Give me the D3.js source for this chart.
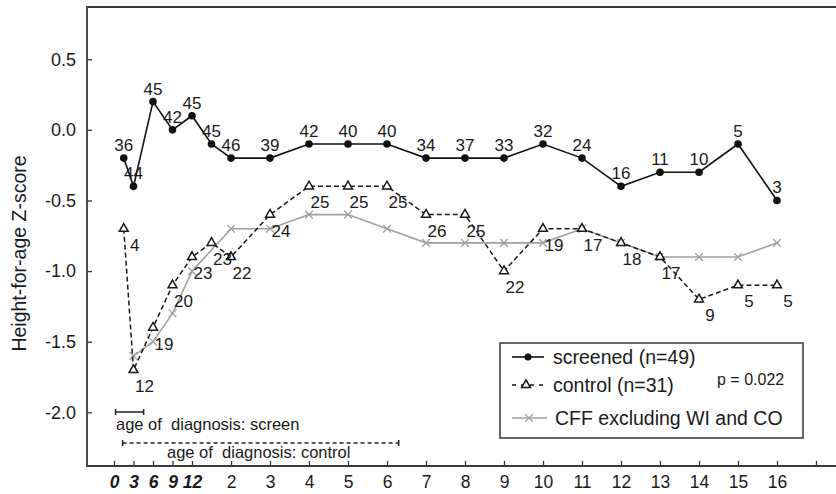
<!DOCTYPE html>
<html><head><meta charset="utf-8">
<script src="https://cdn.jsdelivr.net/npm/d3@7"></script>
<style>
body{margin:0;background:#fff}
text{font-family:"Liberation Sans",Arial,Helvetica,sans-serif;fill:#1a1a1a}
</style>
</head><body>
<svg id="chart" width="836" height="494"></svg>
<script>
// ---- data (ages in years; first year shown in months) ----
const screenedAges = [0.125,0.25,0.5,0.75,1,1.5,2,3,4,5,6,7,8,9,10,11,12,13,14,15,16];
const screenedZ    = [-0.2,-0.4,0.2,0.0,0.1,-0.1,-0.2,-0.2,-0.1,-0.1,-0.1,-0.2,-0.2,-0.2,-0.1,-0.2,-0.4,-0.3,-0.3,-0.1,-0.5];
const screenedN    = [36,44,45,42,45,45,46,39,42,40,40,34,37,33,32,24,16,11,10,5,3];

const controlAges  = [0.125,0.25,0.5,0.75,1,1.5,2,3,4,5,6,7,8,9,10,11,12,13,14,15,16];
const controlZ     = [-0.7,-1.7,-1.4,-1.1,-0.9,-0.8,-0.9,-0.6,-0.4,-0.4,-0.4,-0.6,-0.6,-1.0,-0.7,-0.7,-0.8,-0.9,-1.2,-1.1,-1.1];
const controlN     = [4,12,19,20,23,23,22,24,25,25,25,26,25,22,19,17,18,17,9,5,5];

const cffAges      = [0.25,0.5,0.75,1,2,3,4,5,6,7,8,9,10,11,12,13,14,15,16];
const cffZ         = [-1.6,-1.5,-1.3,-1.0,-0.7,-0.7,-0.6,-0.6,-0.7,-0.8,-0.8,-0.8,-0.8,-0.7,-0.8,-0.9,-0.9,-0.9,-0.8];

const monthTicks   = [0,3,6,9,12];
const yearTicks    = [2,3,4,5,6,7,8,9,10,11,12,13,14,15,16,17];
const yTicks       = [0.5,0.0,-0.5,-1.0,-1.5,-2.0];

const screenDiagnosisRange  = [0.02,0.38];
const controlDiagnosisRange = [0.11,6.3];

const legendLabels = ["screened (n=49)","control (n=31)","CFF excluding WI and CO"];
const pValueText = "p = 0.022";
const yTitle = "Height-for-age Z-score";

// ---- scales ----
const svg = d3.select("#chart");
const x = d3.scaleLinear().domain([0,1,16]).range([114,192,777]);
const y = d3.scaleLinear().domain([-2.38,0.87]).range([466,7]);
const frameL = 87, frameR = 836, frameT = 7, frameB = 466;

// ---- axes ----
const tickVals = monthTicks.map(m=>m/12).concat(yearTicks);
const xAxis = d3.axisBottom(x).tickValues(tickVals)
  .tickFormat(d => d<=1 ? String(Math.round(d*12)) : (d===17 ? "" : String(d)))
  .tickSizeInner(-5).tickSizeOuter(0).tickPadding(10);
const gx = svg.append("g").attr("transform",`translate(0,${frameB})`).call(xAxis);
gx.select(".domain").remove();
gx.selectAll(".tick line").attr("stroke","#333").attr("stroke-width",1.3);
gx.selectAll(".tick text").attr("font-size",17.5).attr("fill","#1a1a1a")
  .attr("font-family","'Liberation Sans',Arial,sans-serif")
  .filter(d=>d<=1).attr("font-weight","bold").attr("font-style","italic");

const yAxis = d3.axisLeft(y).tickValues(yTicks).tickFormat(d=>d.toFixed(1))
  .tickSizeInner(-5).tickSizeOuter(0).tickPadding(11);
const gy = svg.append("g").attr("transform",`translate(${frameL},0)`).call(yAxis);
gy.select(".domain").remove();
gy.selectAll(".tick line").attr("stroke","#333").attr("stroke-width",1.3);
gy.selectAll(".tick text").attr("font-size",18).attr("fill","#1a1a1a")
  .attr("font-family","'Liberation Sans',Arial,sans-serif");

// frame
svg.append("path").attr("d",`M${frameR},${frameT}H${frameL}V${frameB}H${frameR}`)
  .attr("fill","none").attr("stroke","#3a3a3a").attr("stroke-width",1.8);

// y title
svg.append("text").attr("transform",`translate(26,${(frameT+frameB)/2+17}) rotate(-90)`)
  .attr("text-anchor","middle").attr("font-size",19.5).text(yTitle);

// ---- series ----
const line = d3.line().x(d=>x(d[0])).y(d=>y(d[1]));
const cff = cffAges.map((a,i)=>[a,cffZ[i]]);
const ctl = controlAges.map((a,i)=>[a,controlZ[i],controlN[i]]);
const scr = screenedAges.map((a,i)=>[a,screenedZ[i],screenedN[i]]);

// CFF
svg.append("path").datum(cff).attr("d",line).attr("fill","none").attr("stroke","#a0a0a0").attr("stroke-width",1.6);
const cross = d3.symbol().type(d3.symbolX).size(40);
svg.selectAll(".cffm").data(cff).join("path").attr("d",cross)
  .attr("transform",d=>`translate(${x(d[0])},${y(d[1])})`).attr("stroke","#a0a0a0").attr("stroke-width",1.3).attr("fill","none");

// control
svg.append("path").datum(ctl).attr("d",line).attr("fill","none").attr("stroke","#1a1a1a")
  .attr("stroke-width",1.5).attr("stroke-dasharray","5,3");
const tri = d3.symbol().type(d3.symbolTriangle).size(34);
svg.selectAll(".ctlm").data(ctl).join("path").attr("d",tri)
  .attr("transform",d=>`translate(${x(d[0])},${y(d[1])})`).attr("stroke","#1a1a1a").attr("stroke-width",1.5).attr("fill","#fff");
svg.selectAll(".ctll").data(ctl).join("text").attr("x",d=>x(d[0])+11).attr("y",d=>y(d[1])+22)
  .attr("text-anchor","middle").attr("font-size",17).text(d=>d[2]);

// screened
svg.append("path").datum(scr).attr("d",line).attr("fill","none").attr("stroke","#111").attr("stroke-width",1.6);
svg.selectAll(".scrm").data(scr).join("circle").attr("cx",d=>x(d[0])).attr("cy",d=>y(d[1])).attr("r",3.8).attr("fill","#111");
svg.selectAll(".scrl").data(scr).join("text").attr("x",d=>x(d[0])).attr("y",d=>y(d[1])-7)
  .attr("text-anchor","middle").attr("font-size",17).text(d=>d[2]);

// ---- age of diagnosis annotations ----
const sy = 412;
svg.append("path").attr("d",`M${x(screenDiagnosisRange[0])},${sy-3}V${sy+3}M${x(screenDiagnosisRange[0])},${sy}H${x(screenDiagnosisRange[1])}M${x(screenDiagnosisRange[1])},${sy-3}V${sy+3}`)
  .attr("stroke","#222").attr("stroke-width",1.5).attr("fill","none");
svg.append("text").attr("x",116).attr("y",430).attr("font-size",16.5).style("white-space","pre").text("age of  diagnosis: screen");
const cy = 443;
svg.append("path").attr("d",`M${x(controlDiagnosisRange[0])},${cy}H${x(controlDiagnosisRange[1])}`)
  .attr("stroke","#222").attr("stroke-width",1.5).attr("stroke-dasharray","4,3");
svg.append("path").attr("d",`M${x(controlDiagnosisRange[0])},${cy-3}V${cy+3}M${x(controlDiagnosisRange[1])},${cy-3}V${cy+3}`)
  .attr("stroke","#222").attr("stroke-width",1.5);
svg.append("text").attr("x",167).attr("y",458).attr("font-size",16.5).style("white-space","pre").text("age of  diagnosis: control");

// ---- legend ----
const lg = svg.append("g");
lg.append("rect").attr("x",500).attr("y",343).attr("width",303).attr("height",95)
  .attr("fill","#fff").attr("stroke","#444").attr("stroke-width",1.6);
const rows = [357,385,418];
// screened row
lg.append("line").attr("x1",512).attr("x2",544).attr("y1",rows[0]).attr("y2",rows[0]).attr("stroke","#111").attr("stroke-width",1.6);
lg.append("circle").attr("cx",528).attr("cy",rows[0]).attr("r",3.5).attr("fill","#111");
// control row
lg.append("line").attr("x1",512).attr("x2",546).attr("y1",rows[1]).attr("y2",rows[1]).attr("stroke","#111").attr("stroke-width",1.5).attr("stroke-dasharray","4,5");
lg.append("path").attr("d",tri).attr("transform",`translate(526,${rows[1]})`).attr("stroke","#111").attr("stroke-width",1.5).attr("fill","#fff");
// cff row
lg.append("line").attr("x1",512).attr("x2",547).attr("y1",rows[2]).attr("y2",rows[2]).attr("stroke","#a0a0a0").attr("stroke-width",1.6);
lg.append("path").attr("d",cross).attr("transform",`translate(529,${rows[2]})`).attr("stroke","#a0a0a0").attr("stroke-width",1.3).attr("fill","none");
lg.selectAll(".lt").data(legendLabels).join("text").attr("x",(d,i)=>i===2?555:553).attr("y",(d,i)=>rows[i]+7)
  .attr("font-size",19.5).text(d=>d);
lg.append("text").attr("x",717).attr("y",385).attr("font-size",16).text(pValueText);
</script>
</body></html>
